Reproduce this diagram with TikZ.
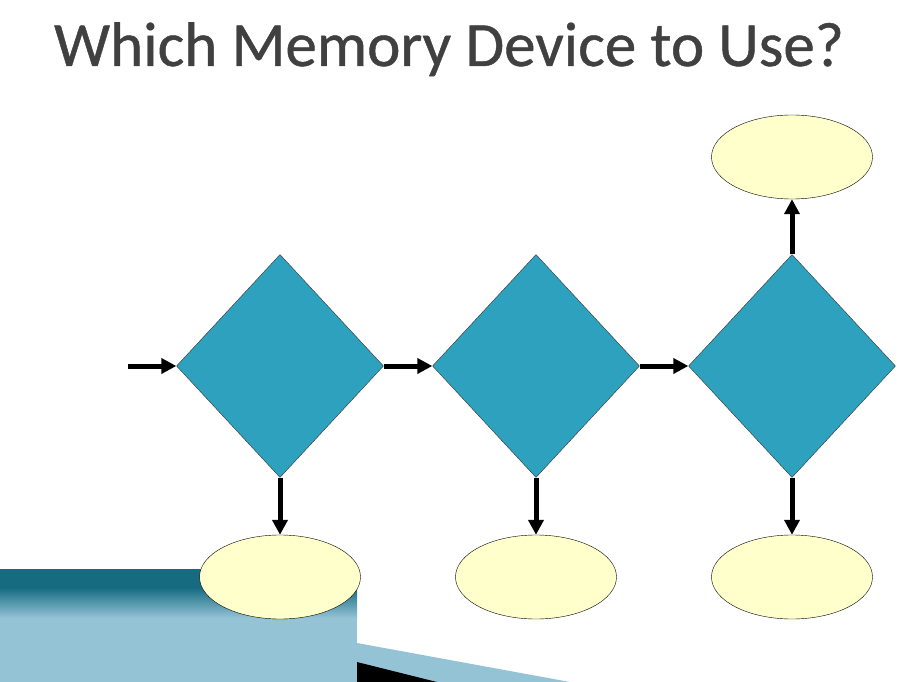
\documentclass[tikz,border=0pt]{standalone}
\usepackage{fontspec}
\setmainfont{Carlito}
\usepackage{tikz}
\usetikzlibrary{calc}
\usetikzlibrary{arrows.meta}
\usetikzlibrary{shapes.geometric}

\definecolor{titlegray}{HTML}{404040}
\definecolor{diafill}{HTML}{2EA1BF}
\definecolor{ovalfill}{HTML}{FFFFCC}
\definecolor{barteal}{HTML}{166B80}
\definecolor{barlight}{HTML}{94C3D6}

\tikzset{
    dia/.style={diamond,draw=black!80,thin,fill=diafill,inner sep=0pt,
        minimum width=207pt,minimum height=223pt},
    oval/.style={ellipse,draw=black,thin,fill=ovalfill,inner sep=0pt,
        minimum width=161pt,minimum height=84pt},
    flow/.style={line width=5pt,-{Triangle[length=15pt,width=15pt]}}
}

\begin{document}
\begin{tikzpicture}[x=1pt,y=-1pt]
        \useasboundingbox (0,0) rectangle (898,682);
        \node[text=titlegray,font=\fontsize{63}{68}\selectfont\addfontfeature{FakeBold=0.7},anchor=base] (title) at (449,66) {Which Memory Device to Use?};

        % slide bar bottom left
        \fill[barteal] (0,569) rectangle (357,588);
        \shade[top color=barteal,bottom color=barlight] (0,587.5) rectangle (357,618);
        \fill[barlight] (0,617.5) rectangle (357,682);
        \fill[barlight] (357,643) -- (570,682) -- (357,682) -- cycle;
        \fill[black] (357,662) -- (437,682) -- (357,682) -- cycle;

        % decisions
        \node[dia] (d1) at (280,366) {};
        \node[dia] (d2) at (536,366) {};
        \node[dia] (d3) at (792,366) {};
        % outcomes
        \node[oval] (o1) at (280,577) {};
        \node[oval] (o2) at (536,577) {};
        \node[oval] (o3) at (792,577) {};
        \node[oval] (o4) at (792,157) {};

        \coordinate (in) at (128,366);
        \draw[flow] (in) -- (d1.west);
        \draw[flow] (d1.east) -- (d2.west);
        \draw[flow] (d2.east) -- (d3.west);
        \draw[flow] (d1.south) -- (o1.north);
        \draw[flow] (d2.south) -- (o2.north);
        \draw[flow] (d3.south) -- (o3.north);
        \draw[flow] (d3.north) -- (o4.south);
    \end{tikzpicture}
\end{document}
